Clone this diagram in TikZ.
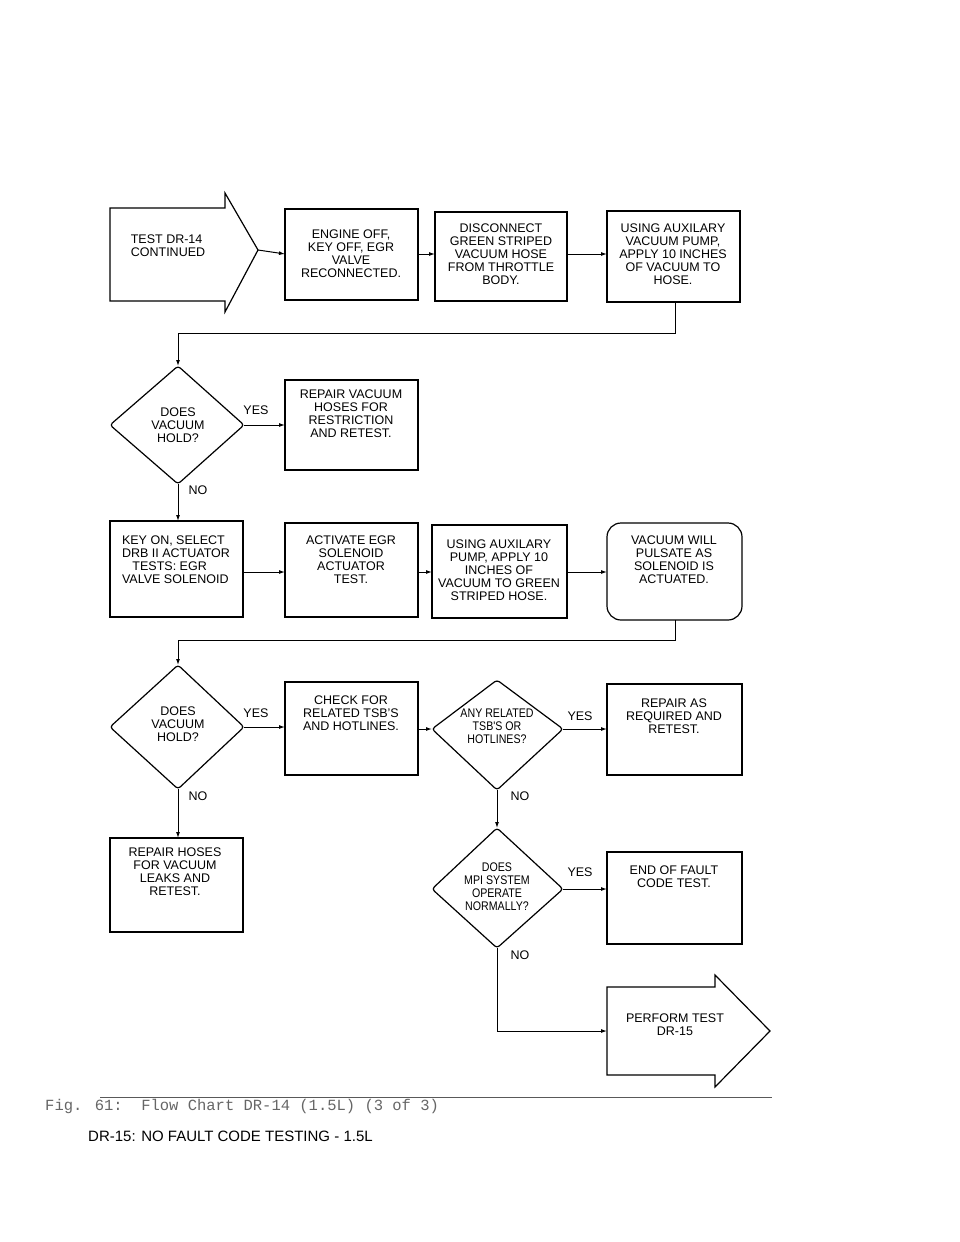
\documentclass[tikz,border=0pt]{standalone}
\usepackage{fontspec}
\setmainfont{Liberation Sans}
\newfontfamily\monof{Liberation Mono}
\newfontfamily\narf[FakeStretch=0.85]{Liberation Sans}
\usetikzlibrary{arrows.meta,shapes.geometric}
\begin{document}
\begin{tikzpicture}[x=1pt,y=-1pt,
  txt/.style={align=center,font=\fontsize{12.5}{13}\selectfont,inner sep=0},
  bx/.style={draw,line width=1.2pt},
  ln/.style={line width=1pt},
  ar/.style={ln,-{Latex[length=6pt,width=4pt]}},
  lab/.style={font=\fontsize{12.5}{13}\selectfont,inner sep=1pt}]
\useasboundingbox (0,0) rectangle (960,1242);
% arrow 1
\draw[bx] (110,208) -- (225,208) -- (225,193) -- (258,250) -- (225,312) -- (225,301) -- (110,301) -- cycle;
\node[txt,align=left] (a1) at (168,246) {TEST DR-14\\CONTINUED};
\coordinate (a1t) at (258,250);
\draw[bx] (285,209) rectangle (418,300); \node[txt] (b2) at (351,254) {ENGINE OFF,\\KEY OFF, EGR\\VALVE\\RECONNECTED.};
\coordinate (b2l) at (285,254); \coordinate (b2r) at (418,254);
\draw[bx] (435,212) rectangle (567,301); \node[txt] (b3) at (501,254) {DISCONNECT\\GREEN STRIPED\\VACUUM HOSE\\FROM THROTTLE\\BODY.};
\coordinate (b3l) at (435,254); \coordinate (b3r) at (567,254);
\draw[bx] (607,211) rectangle (740,302); \node[txt] (b4) at (673,254) {USING AUXILARY\\VACUUM PUMP,\\APPLY 10 INCHES\\OF VACUUM TO\\HOSE.};
\coordinate (b4l) at (607,254); \coordinate (b4b) at (675,302);
\draw[ar] (a1t) -- (b2l); \draw[ar] (b2r) -- (b3l); \draw[ar] (b3r) -- (b4l);
% diamond 1
\coordinate (d1t) at (178,366); \coordinate (d1r) at (244,425); \coordinate (d1b) at (178,484);
\draw[bx,rounded corners=3pt] (d1t) -- (d1r) -- (d1b) -- (110,425) -- cycle;
\node[txt] (d1) at (178,425) {DOES\\VACUUM\\HOLD?};
\draw[ar] (b4b) -- (675,333) -- (178,333) -- (d1t);
\draw[bx] (285,380) rectangle (418,470); \node[txt] (r1) at (351,414) {REPAIR VACUUM\\HOSES FOR\\RESTRICTION\\AND RETEST.};
\draw[ar] (d1r) -- (285,425); \node[lab] (y1) at (256,410) {YES};
\node[lab] (n1) at (198,490) {NO};
% row 3
\draw[bx] (110,521) rectangle (243,617); \node[txt,align=left] (k) at (176,560) {KEY ON, SELECT\\DRB II ACTUATOR\\\ \ \ TESTS: EGR\\VALVE SOLENOID};
\draw[ar] (d1b) -- (178,521);
\draw[bx] (285,523) rectangle (418,617); \node[txt] (act) at (351,560) {ACTIVATE EGR\\SOLENOID\\ACTUATOR\\TEST.};
\draw[bx] (432,525) rectangle (567,618); \node[txt] (us2) at (499,570) {USING AUXILARY\\PUMP, APPLY 10\\INCHES OF\\VACUUM TO GREEN\\STRIPED HOSE.};
\draw[bx,rounded corners=14pt] (607,523) rectangle (742,620); \node[txt] (vw) at (674,560) {VACUUM WILL\\PULSATE AS\\SOLENOID IS\\ACTUATED.};
\draw[ar] (243,572) -- (285,572); \draw[ar] (418,572) -- (432,572); \draw[ar] (567,572) -- (607,572);
% diamond 2
\coordinate (d2t) at (178,665); \coordinate (d2r) at (244,727); \coordinate (d2b) at (178,789);
\draw[bx,rounded corners=3pt] (d2t) -- (d2r) -- (d2b) -- (110,727) -- cycle;
\node[txt] (d2) at (178,724) {DOES\\VACUUM\\HOLD?};
\draw[ar] (675,620) -- (675,640) -- (178,640) -- (d2t);
\draw[bx] (285,682) rectangle (418,775); \node[txt] (chk) at (351,713) {CHECK FOR\\RELATED TSB'S\\AND HOTLINES.};
\draw[ar] (d2r) -- (285,727); \node[lab] (y2) at (256,713) {YES};
\node[lab] (n2) at (198,796) {NO};
\draw[bx] (110,838) rectangle (243,932); \node[txt] (rh) at (175,872) {REPAIR HOSES\\FOR VACUUM\\LEAKS AND\\RETEST.};
\draw[ar] (d2b) -- (178,838);
% diamond 3
\coordinate (d3t) at (497,680); \coordinate (d3r) at (563,729); \coordinate (d3b) at (497,790); \coordinate (d3l) at (432,729);
\draw[bx,rounded corners=3pt] (d3t) -- (d3r) -- (d3b) -- (d3l) -- cycle;
\node[txt,font=\narf\fontsize{12.5}{13}\selectfont] (d3) at (497,726) {ANY RELATED\\TSB'S OR\\HOTLINES?};
\draw[ar] (418,729) -- (d3l);
\draw[bx] (607,684) rectangle (742,775); \node[txt] (ra) at (674,716) {REPAIR AS\\REQUIRED AND\\RETEST.};
\draw[ar] (d3r) -- (607,729); \node[lab] (y3) at (580,716) {YES};
\node[lab] (n3) at (520,796) {NO};
% diamond 4
\coordinate (d4t) at (497,828); \coordinate (d4r) at (563,889); \coordinate (d4b) at (497,948); \coordinate (d4l) at (432,889);
\draw[bx,rounded corners=3pt] (d4t) -- (d4r) -- (d4b) -- (d4l) -- cycle;
\node[txt,font=\narf\fontsize{12.5}{13}\selectfont] (d4) at (497,887) {DOES\\MPI SYSTEM\\OPERATE\\NORMALLY?};
\draw[ar] (d3b) -- (d4t);
\draw[bx] (607,852) rectangle (742,944); \node[txt] (ef) at (674,877) {END OF FAULT\\CODE TEST.};
\draw[ar] (d4r) -- (607,889); \node[lab] (y4) at (580,872) {YES};
\node[lab] (n4) at (520,955) {NO};
% arrow 2
\draw[bx] (607,987) -- (715,987) -- (715,975) -- (770,1031) -- (715,1087) -- (715,1075) -- (607,1075) -- cycle;
\node[txt] (pt) at (675,1025) {PERFORM TEST\\DR-15};
\draw[ar] (d4b) -- (497,1031) -- (607,1031);
% caption
\draw[line width=0.6pt,gray!70!black] (100,1097) -- (772,1097);
\node[anchor=west,inner sep=0,font=\monof\fontsize{15.5}{17}\selectfont,text=gray!80!black] (cap) at (45,1106) {Fig. 61:\ \ Flow Chart DR-14 (1.5L) (3 of 3)};
\node[anchor=west,inner sep=0,font=\fontsize{15}{18}\selectfont] (ft) at (88,1136) {DR-15: NO FAULT CODE TESTING - 1.5L};
\end{tikzpicture}
\end{document}
